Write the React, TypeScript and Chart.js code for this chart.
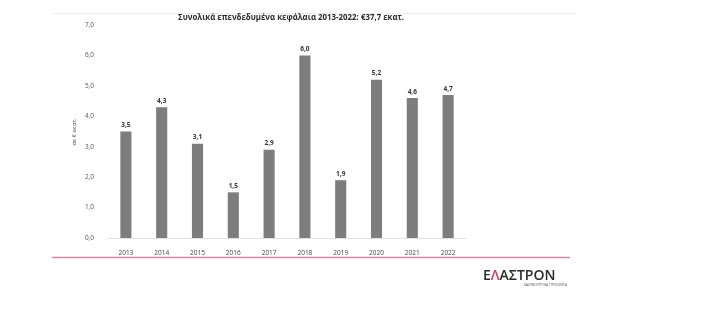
import React, { useEffect, useRef } from "react";
import { Chart, registerables } from "chart.js";

Chart.register(...registerables);

const years = ["2013", "2014", "2015", "2016", "2017", "2018", "2019", "2020", "2021", "2022"];
const values = [3.5, 4.3, 3.1, 1.5, 2.9, 6.0, 1.9, 5.2, 4.6, 4.7];
const titleText = "Συνολικά επενδεδυμένα κεφάλαια 2013-2022: €37,7 εκατ.";
const yAxisTitle = "σε € εκατ.";
const logoParts = ["Ε", "Λ", "ΑΣΤΡΟΝ"];
const logoSub = "ΧΑΛΥΒΟΥΡΓΙΚΑ ΠΡΟΪΟΝΤΑ";

const FONT = "'Open Sans', 'DejaVu Sans', sans-serif";
const fmt = (v: number) => v.toFixed(1).replace(".", ",");

const decorPlugin = {
  id: "decor",
  afterDraw(chart: any) {
    const ctx = chart.ctx as CanvasRenderingContext2D;
    ctx.save();
    // top thin line
    ctx.strokeStyle = "#ececec";
    ctx.lineWidth = 1;
    ctx.beginPath();
    ctx.moveTo(52, 13.5);
    ctx.lineTo(575, 13.5);
    ctx.stroke();
    // pink bottom line
    ctx.strokeStyle = "#d98a9c";
    ctx.lineWidth = 1.3;
    ctx.beginPath();
    ctx.moveTo(52, 257.5);
    ctx.lineTo(570, 257.5);
    ctx.stroke();
    // title
    ctx.fillStyle = "#2b2b2b";
    ctx.font = `bold 9px ${FONT}`;
    ctx.textAlign = "center";
    ctx.textBaseline = "middle";
    ctx.fillText(titleText, 291, 17, 226);
    // y axis title
    ctx.save();
    ctx.translate(74, 132);
    ctx.rotate(-Math.PI / 2);
    ctx.font = `6px ${FONT}`;
    ctx.fillStyle = "#444";
    ctx.fillText(yAxisTitle, 0, 0);
    ctx.restore();
    // value labels
    const meta = chart.getDatasetMeta(0);
    ctx.font = `bold 6.5px ${FONT}`;
    ctx.fillStyle = "#333";
    ctx.textBaseline = "bottom";
    meta.data.forEach((el: any, i: number) => {
      ctx.fillText(fmt(values[i]), el.x, el.y - 3);
    });
    // logo
    ctx.textAlign = "left";
    ctx.textBaseline = "alphabetic";
    ctx.font = `600 14px ${FONT}`;
    let x = 483;
    const cols = ["#2a2a2a", "#cf3f55", "#2a2a2a"];
    logoParts.forEach((p, i) => {
      ctx.fillStyle = cols[i];
      ctx.fillText(p, x, 280);
      x += ctx.measureText(p).width;
    });
    ctx.font = `3.5px ${FONT}`;
    ctx.fillStyle = "#555";
    ctx.textAlign = "right";
    ctx.fillText(logoSub, 567, 286);
    ctx.restore();
  },
};

export default function App() {
  const ref = useRef<HTMLCanvasElement>(null);
  useEffect(() => {
    document.body.style.margin = "0";
    const chart = new Chart(ref.current!, {
      type: "bar",
      data: {
        labels: years,
        datasets: [
          {
            data: values,
            backgroundColor: "#7d7d80",
            barPercentage: 0.31,
            categoryPercentage: 1,
          },
        ],
      },
      options: {
        animation: false,
        responsive: false,
        layout: { padding: { left: 60, right: 237, top: 25, bottom: 68 } },
        plugins: { legend: { display: false }, tooltip: { enabled: false }, title: { display: false } },
        scales: {
          x: {
            grid: { display: false },
            border: { color: "#e2e2e2" },
            ticks: { font: { size: 6.5, family: FONT }, color: "#444", padding: 3 },
            afterFit: (s: any) => {
              s.height = 20;
            },
          },
          y: {
            min: 0,
            max: 7,
            grid: { display: false },
            border: { display: false },
            ticks: {
              stepSize: 1,
              padding: 6,
              font: { size: 6.5, family: FONT },
              color: "#555",
              callback: (v: any) => fmt(Number(v)),
            },
            afterFit: (s: any) => {
              s.width = 48;
            },
          },
        },
      },
      plugins: [decorPlugin],
    });
    return () => chart.destroy();
  }, []);
  return (
    <div style={{ position: "relative", width: 703, height: 326, background: "#fff" }}>
      <canvas ref={ref} width={703} height={326} style={{ display: "block" }} />
    </div>
  );
}
